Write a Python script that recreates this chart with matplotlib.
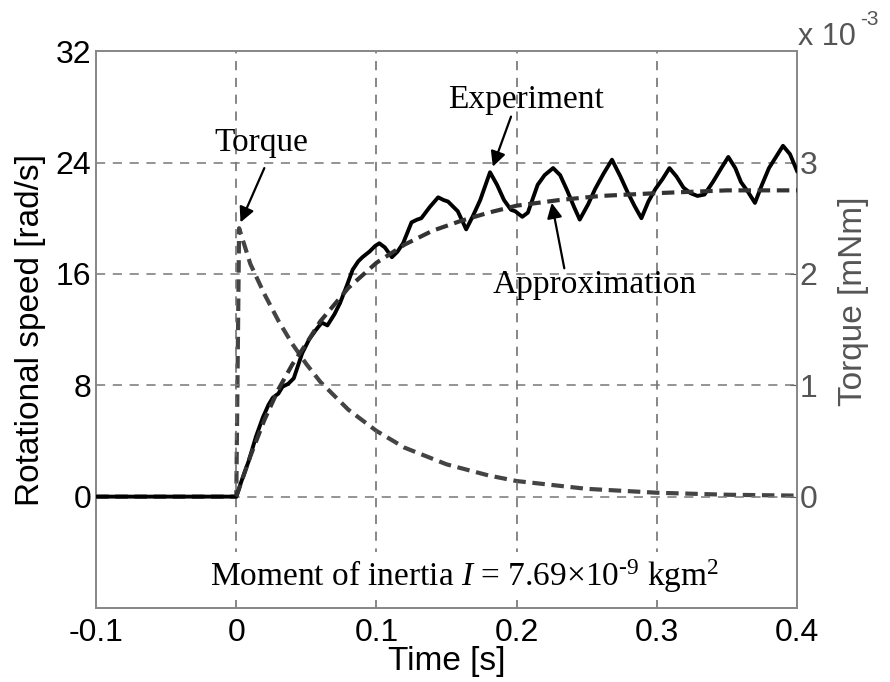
import numpy as np
import matplotlib.pyplot as plt

# experiment: measured rotational speed [rad/s]
exp_t = [-0.1, 0.0, 0.004, 0.009, 0.014, 0.019, 0.023, 0.026, 0.030, 0.033, 0.037,
         0.041, 0.044, 0.047, 0.052, 0.057, 0.061, 0.065, 0.070, 0.074, 0.079,
         0.083, 0.087, 0.090, 0.095, 0.099, 0.102, 0.106, 0.111, 0.115, 0.119,
         0.125, 0.129, 0.132, 0.138, 0.144, 0.148, 0.151, 0.158, 0.164, 0.169,
         0.174, 0.181, 0.186, 0.191, 0.196, 0.199, 0.204, 0.208, 0.215, 0.220,
         0.226, 0.231, 0.236, 0.241, 0.245, 0.251, 0.256, 0.262, 0.268, 0.274,
         0.279, 0.284, 0.289, 0.294, 0.299, 0.304, 0.309, 0.314, 0.319, 0.324,
         0.329, 0.334, 0.340, 0.346, 0.351, 0.356, 0.360, 0.365, 0.370, 0.375,
         0.380, 0.385, 0.390, 0.395, 0.400]
exp_speed = [0.0, 0.0, 1.2, 2.6, 4.3, 5.7, 6.6, 7.1, 7.4, 7.9, 8.1,
             8.5, 9.4, 10.3, 11.3, 12.0, 12.5, 12.3, 13.1, 13.9, 15.2,
             16.3, 16.9, 17.2, 17.6, 18.0, 18.2, 17.9, 17.2, 17.6, 18.2,
             19.7, 19.9, 20.0, 20.8, 21.5, 21.3, 21.2, 20.5, 19.2, 20.2,
             21.3, 23.3, 22.4, 21.3, 20.6, 20.5, 20.1, 20.4, 22.4, 23.1,
             23.6, 23.1, 22.0, 20.8, 19.9, 21.0, 22.1, 23.2, 24.2, 23.0,
             21.9, 20.9, 20.0, 21.2, 22.1, 22.8, 23.6, 23.0, 22.2, 21.8,
             21.6, 21.7, 22.6, 23.6, 24.4, 23.6, 22.6, 21.9, 21.1, 22.4,
             23.6, 24.4, 25.2, 24.6, 23.4]

# approximation of rotational speed [rad/s]
approx_t = [0.0, 0.01, 0.02, 0.03, 0.04, 0.05, 0.06, 0.08, 0.10, 0.12,
            0.14, 0.16, 0.18, 0.20, 0.23, 0.26, 0.30, 0.35, 0.40]
approx_speed = [0.0, 2.9, 5.5, 7.7, 9.5, 11.0, 12.6, 15.0, 16.8, 18.1,
                19.1, 19.8, 20.4, 20.9, 21.3, 21.6, 21.8, 22.0, 22.0]

# torque [mNm]
torque_t = [-0.1, 0.0, 0.002, 0.01, 0.02, 0.03, 0.04, 0.05, 0.06, 0.08, 0.10,
            0.12, 0.15, 0.18, 0.20, 0.25, 0.30, 0.35, 0.40]
torque = [0.0, 0.0, 2.41e-3, 2.09e-3, 1.82e-3, 1.58e-3, 1.37e-3, 1.19e-3, 1.03e-3,
          0.78e-3, 0.59e-3, 0.44e-3, 0.29e-3, 0.19e-3, 0.14e-3, 0.07e-3,
          0.035e-3, 0.017e-3, 0.009e-3]

xticks = [-0.1, 0, 0.1, 0.2, 0.3, 0.4]
xticklabels = ['-0.1', '0', '0.1', '0.2', '0.3', '0.4']
yticks_left = [0, 8, 16, 24, 32]
yticks_right = [0, 1e-3, 2e-3, 3e-3]
yticklabels_right = ['0', '1', '2', '3']

plt.rcParams['font.family'] = ['Liberation Sans', 'DejaVu Sans']
plt.rcParams['mathtext.fontset'] = 'custom'
plt.rcParams['mathtext.rm'] = 'Liberation Serif'
plt.rcParams['mathtext.it'] = 'Liberation Serif:italic'
serif = ['Liberation Serif', 'DejaVu Serif']
grey = '#555555'

fig = plt.figure(figsize=(8.9, 6.82), dpi=100)
ax = fig.add_axes([0.108, 0.1085, 0.7875, 0.8165])
ax2 = ax.twinx()

# grid
for x in [0, 0.1, 0.2, 0.3]:
    ax.axvline(x, color='#666666', lw=1.1, ls=(0, (6, 5)), zorder=0)
for y in [0, 8, 16, 24]:
    ax.axhline(y, color='#777777', lw=1.1, ls=(0, (6, 5)), zorder=0)

ax2.plot(torque_t, torque, color='#444444', lw=3, ls=(0, (3, 1.6)))
ax.plot(exp_t, exp_speed, color='black', lw=2.8, zorder=3)
ax.plot(approx_t, approx_speed, color='#333333', lw=3, ls=(0, (3, 1.6)), zorder=4)
ax.set_zorder(ax2.get_zorder() + 1)
ax.patch.set_visible(False)

ax.set_xlim(-0.1, 0.4)
ax.set_ylim(-8, 32)
ax2.set_ylim(-1e-3, 4e-3)

ax.set_xticks(xticks)
ax.set_xticklabels(xticklabels)
ax.set_yticks(yticks_left)
ax2.set_yticks(yticks_right)
ax2.set_yticklabels(yticklabels_right)

ax.tick_params(axis='both', labelsize=23, length=0)
ax.tick_params(axis='x', pad=7)
ax2.tick_params(axis='y', labelsize=23, length=5, direction='in', pad=2,
                colors=grey, labelcolor=grey)

for a in (ax, ax2):
    for s in a.spines.values():
        s.set_color('#888888')
        s.set_linewidth(1.3)

ax.set_xlabel('Time [s]', fontsize=24, labelpad=-1)
ax.set_ylabel('Rotational speed [rad/s]', fontsize=24, labelpad=7)
ax2.set_ylabel('Torque [mNm]', fontsize=24, color=grey)
ax2.yaxis.set_label_coords(1.058, 0.55)

fig.text(0.897, 0.934, 'x 10', fontsize=22, color=grey, ha='left', va='baseline')
fig.text(0.966, 0.963, '-3', fontsize=15, color=grey, ha='left', va='baseline')

arrow = dict(arrowstyle='-|>,head_length=0.9,head_width=0.45', color='black',
             lw=1.6, shrinkA=0, shrinkB=0)
ax.text(0.018, 25.4, 'Torque', family=serif, fontsize=24, ha='center', va='center')
ax.annotate('', xy=(0.003, 19.7), xytext=(0.020, 23.6), arrowprops=arrow)
ax.text(0.207, 28.5, 'Experiment', family=serif, fontsize=24, ha='center', va='center')
ax.annotate('', xy=(0.183, 23.7), xytext=(0.196, 27.3), arrowprops=arrow)
ax.text(0.256, 15.2, 'Approximation', family=serif, fontsize=24, ha='center', va='center')
ax.annotate('', xy=(0.225, 21.1), xytext=(0.234, 16.4), arrowprops=arrow)

ax.text(0.163, -5.7, r'Moment of inertia $I$ = 7.69$\times$10$^{\text{-9}}$ kgm$^{2}$',
        family=serif, fontsize=24, ha='center', va='center', zorder=10,
        bbox=dict(facecolor='white', edgecolor='none', pad=4))

fig.savefig('out.png', dpi=100)
